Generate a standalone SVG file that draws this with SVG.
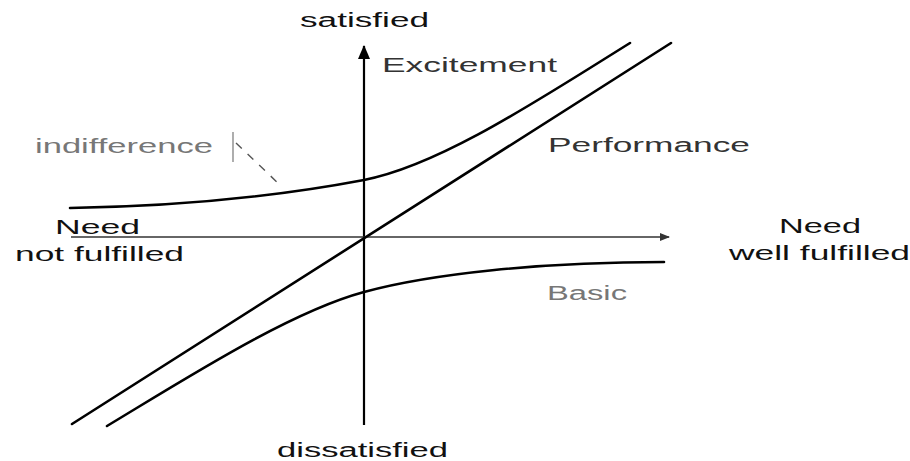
<svg xmlns="http://www.w3.org/2000/svg" width="910" height="461" viewBox="0 0 910 461">
<style>
  text { font-family: "Liberation Sans", Arial, sans-serif; font-size: 20px; fill: #111; }
  .lbl { fill: #333; }
  .light { fill: #777; }
  .curve { fill: none; stroke: #000; stroke-width: 2.6; stroke-linecap: round; }
  .axis { fill: none; stroke: #000; stroke-width: 2.2; }
  .haxis { fill: none; stroke: #333; stroke-width: 1.3; }
</style>
<defs>
  <marker id="arrUp" markerWidth="16" markerHeight="12" refX="13" refY="6" orient="auto" markerUnits="userSpaceOnUse">
    <path d="M0,0 L14,6 L0,12 Z" fill="#000"/>
  </marker>
  <marker id="arrRight" markerWidth="12" markerHeight="10" refX="9" refY="5" orient="auto" markerUnits="userSpaceOnUse">
    <path d="M0,1 L10,5 L0,9 Z" fill="#333"/>
  </marker>
</defs>
<rect width="910" height="461" fill="#fff"/>

<g id="connectors">
  <line id="v-axis" class="axis" x1="364" y1="425" x2="364" y2="46" marker-end="url(#arrUp)"/>
  <line id="h-axis" class="haxis" x1="71" y1="237" x2="669" y2="237" marker-end="url(#arrRight)"/>
  <path id="excitement-curve" class="curve" d="M70,208 C200,206 290,194 364,180 C440,165.5 540,99 630,43"/>
  <path id="performance-line" class="curve" d="M72,424 L671,43"/>
  <path id="basic-curve" class="curve" d="M107,426 C190,376 290,312 364,292 C430,274 540,262 664,262"/>
  <line id="indifference-tick" x1="233" y1="132" x2="233" y2="162" stroke="#777" stroke-width="1.2"/>
  <line id="indifference-leader" x1="236" y1="143" x2="279" y2="184" stroke="#555" stroke-width="1.4" stroke-dasharray="8,8"/>
</g>

<g id="satisfied"><text x="300" y="27" textLength="129" lengthAdjust="spacingAndGlyphs">satisfied</text></g>
<g id="dissatisfied"><text x="277" y="457" textLength="171" lengthAdjust="spacingAndGlyphs">dissatisfied</text></g>
<g id="excitement"><text class="lbl" x="382" y="72" textLength="175" lengthAdjust="spacingAndGlyphs">Excitement</text></g>
<g id="performance"><text class="lbl" x="548" y="152" textLength="202" lengthAdjust="spacingAndGlyphs">Performance</text></g>
<g id="basic"><text class="light" x="547" y="300" textLength="80" lengthAdjust="spacingAndGlyphs">Basic</text></g>
<g id="indifference"><text class="light" x="35" y="153" textLength="178" lengthAdjust="spacingAndGlyphs">indifference</text></g>
<g id="need-not-fulfilled">
  <text x="55" y="234" textLength="85" lengthAdjust="spacingAndGlyphs">Need</text>
  <text x="15" y="261" textLength="169" lengthAdjust="spacingAndGlyphs">not fulfilled</text>
</g>
<g id="need-well-fulfilled">
  <text x="779" y="233" textLength="82" lengthAdjust="spacingAndGlyphs">Need</text>
  <text x="729" y="260" textLength="181" lengthAdjust="spacingAndGlyphs">well fulfilled</text>
</g>
</svg>
